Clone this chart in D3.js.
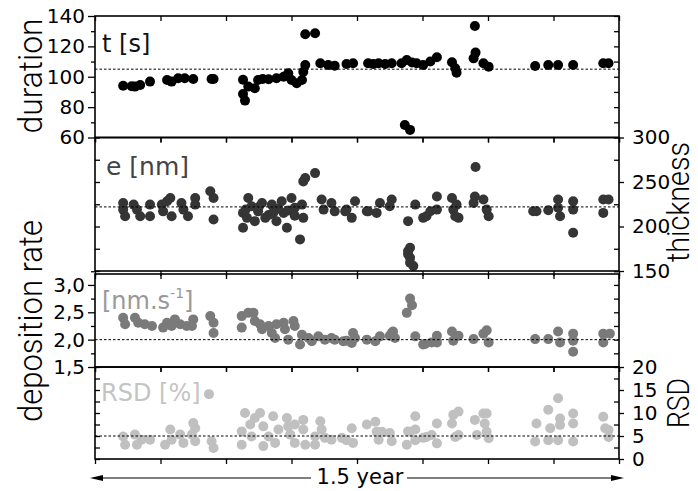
<!DOCTYPE html>
<html>
<head>
<meta charset="utf-8">
<script src="https://cdn.jsdelivr.net/npm/d3@7"></script>
<style>
  html, body { margin: 0; padding: 0; background: #fff; }
  svg { display: block; font-family: "DejaVu Sans", sans-serif; }
  .title { font-family: Roboto, "DejaVu Sans", sans-serif; font-weight: 300; }
</style>
</head>
<body>
<svg id="chart" width="698" height="491"></svg>
<script>
// Each run: [week since start of the campaign, measured value]
const durationRuns = [
  [4.3,94.1],[5.6,93.8],[6.1,93.5],[6.9,94.6],[8.4,96.8],[11.0,97.9],[11.7,96.8],[12.7,99],[13.7,99],
  [15.0,98.5],[17.8,98.5],[18.1,98.5],
  [22.6,98],[22.6,88.7],[22.9,84.3],[23.4,93.5],[24.4,92.4],[24.9,97.9],[25.6,98.5],[26.5,98.3],
  [27.7,99],[28.8,100],[29.5,102.3],[30.0,97.9],[30.8,95.7],[31.6,97.9],[31.8,103.3],[32.1,107.7],
  [32.1,128],[33.6,128.6],[34.4,108.9],[35.6,107.7],[36.6,107.3],[38.4,108.4],[39.4,108.9],
  [41.7,108.9],[42.5,108.4],[43.3,108.9],[44.3,108.4],[45.3,108.9],[46.8,108.9],[47.6,111],[48.4,109.4],
  [49.1,108.9],[50.1,107.7],[51.2,110],[52.2,112.8],[54.5,109.5],[55.0,105.6],[55.2,102.7],
  [47.3,68.2],[48.1,65],[57.8,112.1],[58.1,115.9],[58.0,133.4],[59.3,108.9],[60.1,106.6],
  [67.2,107.1],[69.2,107.7],[70.7,107.7],[73.0,107.7],[77.6,108.9],[78.4,108.9]
];
const thicknessRuns = [
  [4.3,226.5],[4.3,219],[4.6,211.6],[5.9,224.6],[6.4,219],[6.9,211.6],[8.4,224.6],[8.4,211.6],
  [10.2,224.6],[10.4,217],[11.0,228.4],[11.5,232],[11.7,211.6],[13.2,226.5],[13.5,219],[14.2,211.6],
  [15.3,232],[15.3,224.6],[17.6,239.6],[18.1,232],[18.1,207.9],
  [22.6,215.3],[22.6,198.5],[23.0,219],[23.2,209.7],[23.4,232],[23.9,222.8],[24.4,206],[24.9,217],
  [25.0,222],[25.5,226.5],[26.0,209.7],[26.5,213],[27.0,224.6],[27.2,215.3],[27.7,206],[28.0,220],
  [28.5,228.4],[28.8,215.3],[29.3,198.5],[29.5,218],[30.0,232],[30.5,221],[30.5,212],[31.3,185.5],
  [31.6,224.6],[31.8,209.7],[31.8,250.7],[32.1,254.5],[33.6,260],[34.6,230.3],[34.9,219],
  [36.1,226.5],[36.6,217],[38.2,217],[38.4,219],[39.2,209.7],[39.7,228.4],[41.5,217.2],[41.7,217],
  [43.0,215.3],[43.5,226.5],[45.0,222.8],[45.3,230.3],[47.8,206],[48.9,224.6],[50.1,209.7],
  [50.6,211.6],[51.2,217.2],[52.2,219],[52.2,233.8],[54.5,232],[54.7,219],[55.0,211.6],[55.2,224.6],
  [55.5,209.7],[47.8,172.4],[48.1,164.9],[48.6,155.6],[47.8,168.7],[48.1,176.1],[48.1,159.3],
  [57.8,226.5],[58.0,233.8],[58.1,266.8],[59.3,230.3],[59.8,219],[60.1,211.6],
  [66.9,217.2],[67.4,217.2],[69.2,218.3],[70.7,230.3],[70.7,221],[71.0,211.6],[73.0,228.4],
  [73.0,219],[73.0,193],[77.6,230.3],[77.6,215.3],[78.4,230.3]
];
const rateRuns = [
  [4.3,2.40],[4.6,2.28],[6.1,2.40],[6.6,2.31],[7.6,2.28],[8.7,2.25],[10.4,2.22],[11.0,2.31],
  [11.7,2.25],[12.2,2.37],[13.0,2.28],[14.0,2.25],[15.0,2.37],[14.8,2.25],[17.6,2.43],[18.1,2.31],
  [18.1,2.12],[22.4,2.43],[22.4,2.22],[23.4,2.49],[24.2,2.49],[24.4,2.34],[25.2,2.28],[25.5,2.19],
  [26.5,2.25],[27.0,2.12],[27.7,2.28],[27.5,2.03],[28.8,2.31],[29.0,2.19],[29.5,2.00],[30.3,2.34],
  [30.5,2.25],[31.6,2.09],[31.3,1.91],[32.6,2.03],[33.1,1.97],[34.1,2.06],[35.1,2.00],[36.1,2.03],
  [36.6,2.00],[37.9,1.97],[38.4,1.98],[39.2,1.94],[39.4,2.12],[39.7,2.03],[41.5,2.00],[42.8,1.97],
  [43.5,2.06],[45.0,2.07],[45.3,2.12],[45.5,2.15],[45.8,2.03],[47.6,2.49],[48.1,2.75],[48.4,2.63],
  [48.9,2.06],[50.1,1.91],[50.4,1.92],[51.4,1.95],[52.2,2.07],[52.2,1.95],[54.5,2.15],[54.7,1.98],
  [55.5,2.07],[57.8,2.01],[59.3,2.11],[59.8,2.17],[60.1,1.95],[67.2,2.01],[69.2,2.01],[70.7,2.15],
  [71.0,1.95],[73.0,2.11],[73.0,1.98],[73.0,1.78],[77.6,2.11],[77.6,1.95],[78.6,2.11]
];
const rsdRuns = [
  [17.4,14.1],[4.3,4.9],[4.6,3.1],[6.1,5.3],[6.4,3.1],[7.1,4.2],[8.4,4.2],[10.7,3.1],[11.5,6.4],
  [11.7,4.2],[13.0,5.3],[13.5,3.5],[14.8,5.3],[15.0,7.8],[15.3,6.7],[15.3,3.85],[17.8,3.85],[18.1,2.4],
  [22.4,6.0],[22.4,3.1],[22.9,10],[23.7,7.5],[23.9,4.9],[24.4,8.9],[25.2,10],[25.7,7.1],[25.7,2.8],
  [26.5,4.9],[27.2,9.3],[27.5,3.5],[28.0,6.4],[29.3,8.9],[29.5,7.1],[29.8,5.3],[30.5,7.5],[30.5,3.5],
  [31.8,8.5],[31.8,6.4],[32.1,3.1],[33.6,4.9],[33.6,3.1],[34.4,8.2],[34.6,6.4],[35.1,4.6],[36.1,4.2],
  [37.7,4.6],[38.4,4.1],[39.2,6.7],[39.4,3.5],[41.5,7.5],[42.8,8.1],[43.0,5.9],[43.3,4.2],[43.8,5.9],
  [45.0,5.65],[45.3,3.85],[47.6,3.1],[47.8,6.0],[48.1,5.9],[48.9,9.3],[48.9,6.4],[48.9,4.1],[50.1,4.6],
  [50.6,4.8],[51.4,5.2],[52.2,7.7],[52.2,3.4],[54.5,7.7],[54.7,9.6],[55.0,4.8],[55.5,10.3],[55.5,5.2],
  [58.0,8.5],[58.3,5.2],[59.3,9.9],[59.8,9.9],[59.5,7.7],[59.8,5.9],[60.1,4.5],
  [67.2,3.8],[67.4,7.7],[69.2,10.7],[69.5,6.7],[69.2,4.1],[70.7,13.2],[71.0,8.8],[71.0,7.4],[70.7,4.1],
  [73.0,9.9],[73.0,7.7],[73.0,3.8],[77.6,9.2],[77.9,6.7],[78.4,4.8],[78.4,6.3]
];

// Campaign averages (dotted reference lines)
const durationMean = 105;
const thicknessMean = 222;
const rateMean = 2.0;
const rsdMean = 5;

// Axis ticks
const weekTicks = [0, 10, 20, 30, 40, 50, 60, 70, 80];
const durationTicks = [60, 80, 100, 120, 140];
const thicknessTicks = [150, 200, 250, 300];
const rateTicks = [1.5, 2.0, 2.5, 3.0];
const rsdTicks = [0, 5, 10, 15, 20];

const svg = d3.select("#chart");
const X0 = 95, X1 = 619;
const x = d3.scaleLinear().domain([0, 80]).range([X0, X1]);
const commaFmt = d3.formatLocale({ decimal: ",", thousands: ".", grouping: [3], currency: ["", ""] }).format(".1f");

function styleAxis(g, labelled) {
  g.select(".domain").remove();
  g.selectAll(".tick line").attr("stroke", "#000").attr("stroke-width", 1.3);
  g.attr("font-family", "DejaVu Sans, sans-serif").attr("font-size", 20);
  g.selectAll(".tick text").attr("fill", "#000");
  if (!labelled) g.selectAll(".tick text").remove();
}

function panel(cfg) {
  const y = d3.scaleLinear().domain(cfg.domain).range([cfg.bottom, cfg.top]);
  const g = svg.append("g");

  g.append("g").selectAll("circle").data(cfg.data).join("circle")
    .attr("cx", d => x(d[0])).attr("cy", d => y(d[1]))
    .attr("r", 5).attr("fill", cfg.color);

  g.append("line")
    .attr("x1", X0).attr("x2", X1)
    .attr("y1", y(cfg.mean)).attr("y2", y(cfg.mean))
    .attr("stroke", "#000").attr("stroke-width", 1).attr("stroke-dasharray", "2.5,2");

  g.append("rect")
    .attr("x", X0).attr("y", cfg.top).attr("width", X1 - X0).attr("height", cfg.bottom - cfg.top)
    .attr("fill", "none").attr("stroke", "#000").attr("stroke-width", 1.6);

  // week ticks along top (inward) and bottom (downward)
  g.append("g").attr("transform", `translate(0,${cfg.top})`)
    .call(d3.axisTop(x).tickValues(weekTicks).tickSize(-5).tickFormat(""))
    .call(a => styleAxis(a, false));
  g.append("g").attr("transform", `translate(0,${cfg.bottom})`)
    .call(d3.axisBottom(x).tickValues(weekTicks).tickSize(5).tickFormat(""))
    .call(a => styleAxis(a, false));

  const step = cfg.minorStep;
  const allTicks = d3.range(cfg.domain[0], cfg.domain[1] + step / 2, step);
  const minor = allTicks.filter(v => !cfg.ticks.some(t => Math.abs(t - v) < 1e-9));
  const fmt = cfg.format || (d => d);

  if (cfg.labelSide === "left") {
    g.append("g").attr("transform", `translate(${X0},0)`)
      .call(d3.axisLeft(y).tickValues(cfg.ticks).tickSize(7).tickPadding(3).tickFormat(fmt))
      .call(a => styleAxis(a, true));
    g.append("g").attr("transform", `translate(${X0},0)`)
      .call(d3.axisLeft(y).tickValues(minor).tickSize(4).tickFormat(""))
      .call(a => styleAxis(a, false));
    g.append("g").attr("transform", `translate(${X1},0)`)
      .call(d3.axisRight(y).tickValues(allTicks).tickSize(-5).tickFormat(""))
      .call(a => styleAxis(a, false));
  } else {
    g.append("g").attr("transform", `translate(${X1},0)`)
      .call(d3.axisRight(y).tickValues(cfg.ticks).tickSize(5).tickPadding(8).tickFormat(fmt))
      .call(a => styleAxis(a, true));
    g.append("g").attr("transform", `translate(${X1},0)`)
      .call(d3.axisRight(y).tickValues(minor).tickSize(-5).tickFormat(""))
      .call(a => styleAxis(a, false));
    g.append("g").attr("transform", `translate(${X0},0)`)
      .call(d3.axisLeft(y).tickValues(allTicks).tickSize(-5).tickFormat(""))
      .call(a => styleAxis(a, false));
  }
  return y;
}

panel({ top: 16, bottom: 137.5, domain: [60, 140], data: durationRuns, color: "#000",
        mean: durationMean, ticks: durationTicks, minorStep: 10, labelSide: "left" });
panel({ top: 137.5, bottom: 271, domain: [150, 300], data: thicknessRuns, color: "#353535",
        mean: thicknessMean, ticks: thicknessTicks, minorStep: 25, labelSide: "right" });
panel({ top: 274, bottom: 367, domain: [1.5, 3.2], data: rateRuns, color: "#7a7a7a",
        mean: rateMean, ticks: rateTicks, minorStep: 0.25, labelSide: "left", format: commaFmt });
panel({ top: 367, bottom: 459, domain: [0, 20], data: rsdRuns, color: "#c0c0c0",
        mean: rsdMean, ticks: rsdTicks, minorStep: 2.5, labelSide: "right" });

// Quantity names inside each panel
svg.append("text").attr("x", 102).attr("y", 52).attr("font-size", 24).attr("fill", "#111").text("t [s]");
svg.append("text").attr("x", 106).attr("y", 175).attr("font-size", 25).attr("fill", "#444").text("e [nm]");
const rateLabel = svg.append("text").attr("x", 102).attr("y", 309).attr("font-size", 24).attr("fill", "#999");
rateLabel.append("tspan").text("[nm.s");
rateLabel.append("tspan").attr("font-size", 14).attr("dy", -11).text("-1");
rateLabel.append("tspan").attr("dy", 11).text("]");
svg.append("text").attr("x", 101).attr("y", 401).attr("font-size", 24).attr("fill", "#c4c4c4").text("RSD [%]");

// Axis titles
function vTitle(txt, cx, cy, len, size) {
  svg.append("text").attr("class", "title")
    .attr("transform", `translate(${cx},${cy}) rotate(-90)`)
    .attr("text-anchor", "middle").attr("font-size", size)
    .attr("textLength", len).attr("lengthAdjust", "spacingAndGlyphs")
    .attr("fill", "#000").text(txt);
}
vTitle("duration", 42, 76, 115, 34);
vTitle("deposition rate", 42, 321, 202, 34);
vTitle("thickness", 689, 202, 120, 31);
vTitle("RSD", 689, 403, 50, 31);

// Time span arrow
const arrowY = 478;
svg.append("line").attr("x1", 100).attr("x2", 311).attr("y1", arrowY).attr("y2", arrowY)
  .attr("stroke", "#000").attr("stroke-width", 1.2);
svg.append("line").attr("x1", 407).attr("x2", 612).attr("y1", arrowY).attr("y2", arrowY)
  .attr("stroke", "#000").attr("stroke-width", 1.2);
svg.append("path").attr("d", `M90,${arrowY} L103,${arrowY - 3} L103,${arrowY + 3} Z`).attr("fill", "#000");
svg.append("path").attr("d", `M624,${arrowY} L611,${arrowY - 3} L611,${arrowY + 3} Z`).attr("fill", "#000");
svg.append("text").attr("x", 360).attr("y", 484).attr("text-anchor", "middle")
  .attr("font-size", 21).attr("fill", "#000").text("1.5 year");
</script>
</body>
</html>
